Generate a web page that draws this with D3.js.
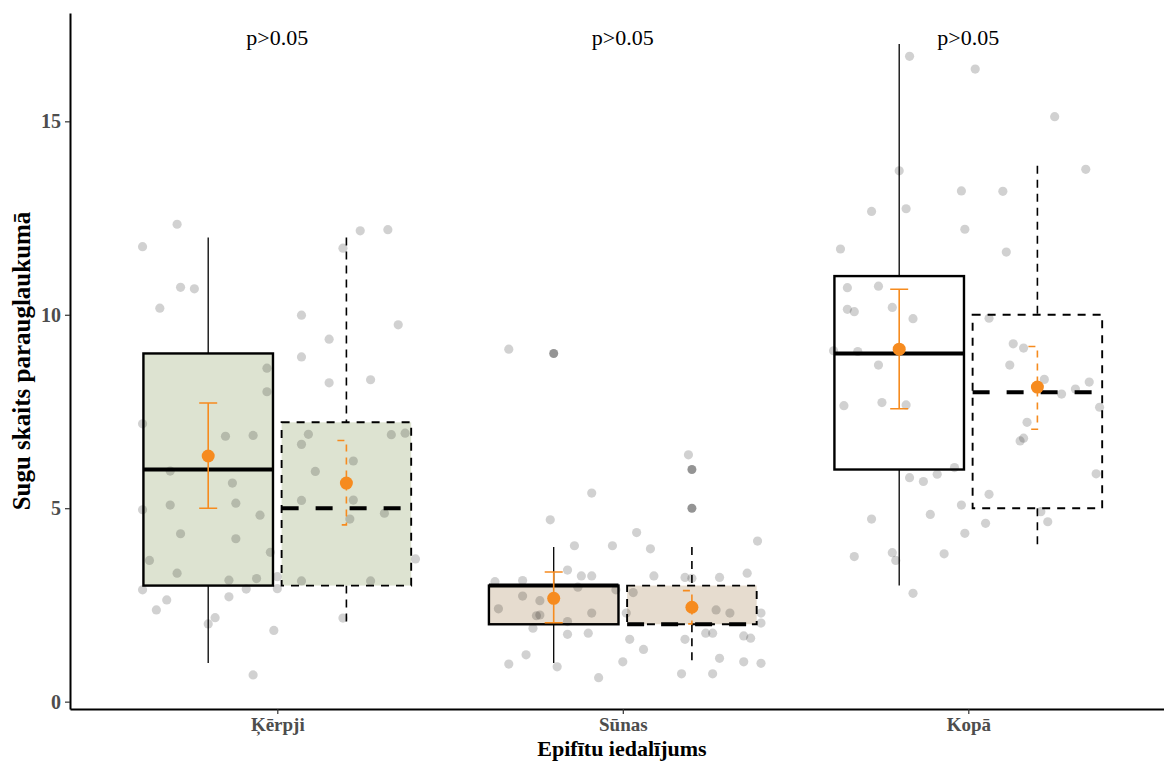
<!DOCTYPE html>
<html><head><meta charset="utf-8">
<script src="https://cdn.jsdelivr.net/npm/d3@7"></script>
<style>body{margin:0;background:#fff}svg{display:block}</style>
</head><body><div id="chart"></div>
<script>
const categories = ["Ķērpji", "Sūnas", "Kopā"];
const pLabels = ["p>0.05", "p>0.05", "p>0.05"];
const yTicks = [0, 5, 10, 15];
const fills = ["#dde3d1", "#e6dccf", "#ffffff"];
// [solid subgroup, dashed subgroup] per category
const whiskerLow = [[1, 2], [1, 1], [3, 4]];
const q1 = [[3, 3], [2, 2], [6, 5]];
const medians = [[6, 5], [3, 2], [9, 8]];
const q3 = [[9, 7.22], [3, 3], [11, 10]];
const whiskerHigh = [[12, 12], [4, 4], [17, 13.85]];
const means = [[6.35, 5.65], [2.67, 2.44], [9.11, 8.13]];
const errLow = [[5.0, 4.57], [2.04, 2.01], [7.57, 7.04]];
const errHigh = [[7.72, 6.75], [3.35, 2.87], [10.66, 9.18]];
const outliers = [[[], []], [[9], [6, 5]], [[], []]];
// jittered observations: [horizontal jitter (category units), value]
const kerpjiPoints = [[-0.29,12.34],[-0.39,11.76],[0.24,12.17],[0.32,12.20],[0.19,11.72],[-0.28,10.71],[-0.24,10.67],[-0.34,10.17],[0.07,9.99],[0.35,9.74],[0.15,9.37],[0.07,8.91],[-0.03,8.62],[0.27,8.32],[0.15,8.24],[-0.03,8.01],[-0.39,7.18],[-0.15,6.86],[-0.07,6.88],[0.09,6.91],[0.07,6.65],[0.33,6.90],[0.37,6.94],[-0.31,5.96],[0.22,6.22],[0.11,5.95],[-0.13,5.65],[-0.31,5.08],[-0.12,5.13],[-0.39,4.96],[-0.05,4.82],[0.07,5.20],[0.22,5.21],[0.21,4.72],[0.31,4.87],[-0.28,4.34],[-0.12,4.21],[-0.02,3.86],[-0.37,3.65],[0.40,3.69],[-0.29,3.32],[-0.14,3.14],[-0.06,3.18],[0.00,3.23],[0.07,3.12],[0.27,3.12],[-0.39,2.89],[-0.09,2.91],[0.00,2.92],[-0.32,2.63],[-0.14,2.71],[-0.35,2.37],[-0.18,2.17],[-0.20,2.01],[0.19,2.16],[-0.01,1.84],[-0.07,0.69]];
const sunasPoints = [[-0.33,9.11],[0.19,6.38],[-0.09,5.39],[-0.21,4.70],[0.04,4.37],[-0.14,4.03],[-0.03,4.03],[0.08,3.95],[0.39,4.15],[-0.16,3.40],[-0.12,3.25],[-0.09,3.25],[0.09,3.25],[0.18,3.21],[0.20,3.19],[0.28,3.21],[0.36,3.32],[-0.37,3.10],[-0.29,3.13],[-0.13,2.96],[-0.02,2.89],[0.03,2.82],[-0.29,2.73],[-0.24,2.61],[-0.36,2.40],[-0.25,2.22],[-0.24,2.24],[-0.09,2.29],[0.01,2.29],[0.27,2.37],[0.31,2.29],[0.40,2.29],[0.40,2.03],[-0.26,1.90],[-0.16,2.07],[-0.16,1.74],[-0.10,1.77],[0.02,1.61],[0.18,1.61],[0.24,1.77],[0.26,1.77],[0.35,1.70],[0.37,1.64],[0.06,1.35],[-0.28,1.21],[-0.33,0.97],[-0.19,0.90],[0.00,1.03],[0.28,1.12],[0.35,1.03],[0.40,0.99],[-0.07,0.62],[0.17,0.72],[0.26,0.72]];
const kopaPoints = [[-0.17,16.68],[0.02,16.35],[0.25,15.12],[-0.20,13.72],[0.34,13.76],[-0.02,13.20],[0.10,13.19],[-0.28,12.67],[-0.18,12.74],[-0.01,12.21],[-0.37,11.70],[0.11,11.62],[-0.35,10.70],[-0.26,10.74],[-0.35,10.14],[-0.33,10.08],[-0.22,10.19],[-0.16,9.90],[0.06,9.91],[0.13,9.25],[0.16,9.14],[-0.39,9.07],[-0.32,9.05],[0.12,8.70],[-0.26,8.70],[0.22,8.33],[0.35,8.26],[0.31,8.08],[0.27,7.95],[-0.36,7.65],[-0.25,7.73],[-0.18,7.67],[0.38,7.61],[0.17,7.22],[0.16,6.81],[0.15,6.74],[-0.04,6.05],[-0.17,5.79],[-0.13,5.69],[-0.09,5.88],[0.37,5.89],[0.06,5.36],[-0.02,5.08],[-0.28,4.72],[-0.11,4.84],[0.05,4.61],[0.23,4.65],[0.21,4.91],[-0.01,4.35],[-0.33,3.75],[-0.22,3.85],[-0.21,3.65],[-0.07,3.82],[-0.16,2.80]];
const allPoints = [kerpjiPoints, sunasPoints, kopaPoints];

const W = 1164, H = 762;
const svg = d3.select("#chart").append("svg").attr("width", W).attr("height", H);
const x = d3.scaleLinear().domain([0.4, 3.6]).range([70, 1175.6]);
const y = d3.scaleLinear().domain([-0.19, 17.8]).range([709, 13]);
const dodge = [-0.2, 0.2];
const halfW = 0.1875;
const orange = "#f68b1f";
const serif = "'Liberation Serif', 'Times New Roman', serif";

const g = svg.append("g");

// boxplots
categories.forEach((c, i) => {
  [0, 1].forEach(j => {
    const cx = i + 1 + dodge[j];
    const dashed = j === 1;
    g.append("line").attr("x1", x(cx)).attr("x2", x(cx))
      .attr("y1", y(whiskerHigh[i][j])).attr("y2", y(q3[i][j]))
      .attr("stroke", "#000").attr("stroke-width", dashed ? 1.6 : 1.3)
      .attr("stroke-dasharray", dashed ? "8,6" : null);
    g.append("line").attr("x1", x(cx)).attr("x2", x(cx))
      .attr("y1", y(q1[i][j])).attr("y2", y(whiskerLow[i][j]))
      .attr("stroke", "#000").attr("stroke-width", dashed ? 1.6 : 1.3)
      .attr("stroke-dasharray", dashed ? "8,6" : null);
    g.append("rect").attr("x", x(cx - halfW)).attr("width", x(cx + halfW) - x(cx - halfW))
      .attr("y", y(q3[i][j])).attr("height", y(q1[i][j]) - y(q3[i][j]))
      .attr("fill", fills[i]).attr("stroke", "#000")
      .attr("stroke-width", dashed ? 1.9 : 2.4)
      .attr("stroke-dasharray", dashed ? "8,7" : null);
    g.append("line").attr("x1", x(cx - halfW)).attr("x2", x(cx + halfW))
      .attr("y1", y(medians[i][j])).attr("y2", y(medians[i][j]))
      .attr("stroke", "#000").attr("stroke-width", 4)
      .attr("stroke-dasharray", dashed ? "17,17" : null);
    outliers[i][j].forEach(v => {
      g.append("circle").attr("cx", x(cx)).attr("cy", y(v)).attr("r", 4.5)
        .attr("fill", "#000").attr("fill-opacity", 0.42);
    });
  });
});

// jittered points
categories.forEach((c, i) => {
  g.append("g").selectAll("circle").data(allPoints[i]).join("circle")
    .attr("cx", d => x(i + 1 + d[0])).attr("cy", d => y(d[1])).attr("r", 4.6)
    .attr("fill", "#000").attr("fill-opacity", 0.18);
});

// mean and error bars
categories.forEach((c, i) => {
  [0, 1].forEach(j => {
    const cx = x(i + 1 + dodge[j]);
    const dashed = j === 1;
    const w = 9;
    const path = `M${cx - w},${y(errHigh[i][j])}H${cx}V${y(errLow[i][j])}H${cx - w}` +
      (dashed ? "" : `M${cx},${y(errHigh[i][j])}H${cx + w}M${cx},${y(errLow[i][j])}H${cx + w}`);
    g.append("path").attr("d", path).attr("fill", "none")
      .attr("stroke", orange).attr("stroke-width", 1.6)
      .attr("stroke-dasharray", dashed ? "7,6" : null);
    g.append("circle").attr("cx", cx).attr("cy", y(means[i][j])).attr("r", 6.5).attr("fill", orange);
  });
});

// axes
const yAxis = svg.append("g").attr("transform", "translate(70,0)")
  .call(d3.axisLeft(y).tickValues(yTicks).tickSize(5).tickSizeOuter(0).tickPadding(4));
yAxis.select(".domain").attr("stroke", "#000").attr("stroke-width", 2);
yAxis.selectAll(".tick line").attr("stroke", "#333").attr("stroke-width", 1.2);
yAxis.selectAll(".tick text").attr("font-family", serif).attr("font-weight", "bold")
  .attr("font-size", 20).attr("fill", "#4d4d4d");

const xAxis = svg.append("g").attr("transform", "translate(0,709)")
  .call(d3.axisBottom(x).tickValues([1, 2, 3]).tickFormat(d => categories[d - 1])
    .tickSize(5).tickSizeOuter(0).tickPadding(4));
xAxis.select(".domain").attr("stroke", "#000").attr("stroke-width", 2);
xAxis.selectAll(".tick line").attr("stroke", "#333").attr("stroke-width", 1.2);
xAxis.selectAll(".tick text").attr("font-family", serif).attr("font-weight", "bold")
  .attr("font-size", 19).attr("fill", "#4d4d4d");

// p labels
svg.append("g").selectAll("text").data(pLabels).join("text")
  .attr("x", (d, i) => x(i + 1)).attr("y", 45).attr("text-anchor", "middle")
  .attr("font-family", serif).attr("font-size", 22).attr("fill", "#000").text(d => d);

// axis titles
svg.append("text").attr("x", 622).attr("y", 756).attr("text-anchor", "middle")
  .attr("font-family", serif).attr("font-weight", "bold").attr("font-size", 22)
  .text("Epifītu iedalījums");
svg.append("text").attr("transform", "translate(30,361) rotate(-90)").attr("text-anchor", "middle")
  .attr("font-family", serif).attr("font-weight", "bold").attr("font-size", 25)
  .text("Sugu skaits parauglaukumā");
</script></body></html>
